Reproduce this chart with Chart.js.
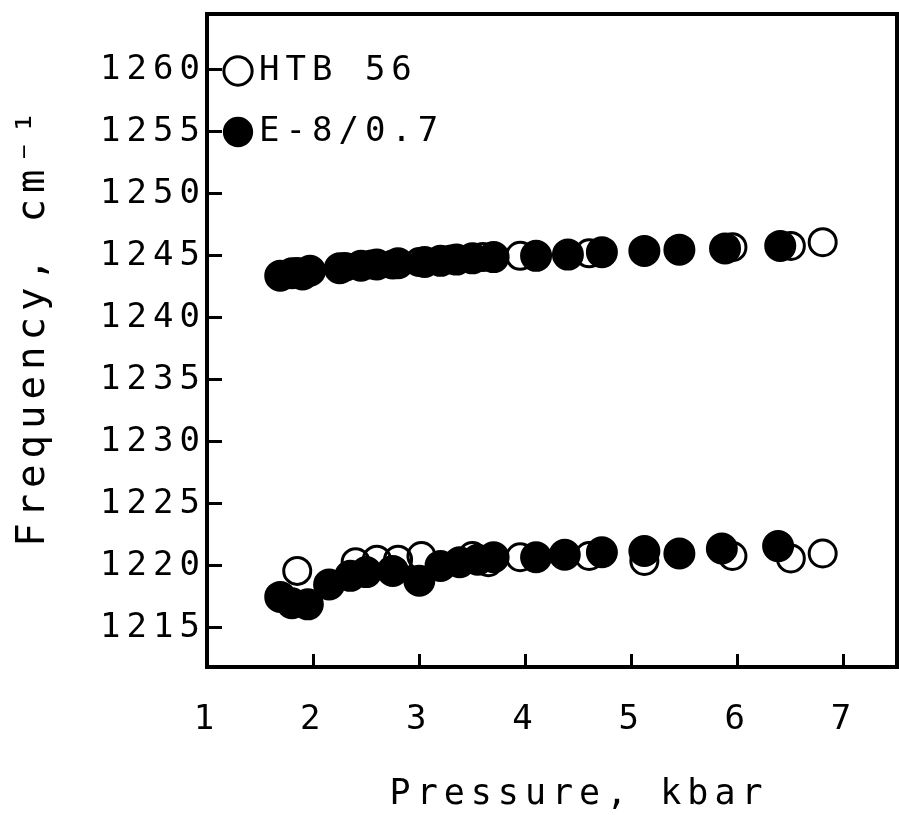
<!DOCTYPE html>
<html>
<head>
<meta charset="utf-8">
<script src="https://cdn.jsdelivr.net/npm/chart.js@4/dist/chart.umd.min.js"></script>
<style>
html,body{margin:0;padding:0;background:#fff;}
#wrap{width:899px;height:818px;}
</style>
</head>
<body>
<div id="wrap"><canvas id="c" width="899" height="818"></canvas></div>
<script>
// Series names
const seriesNames = ["HTB 56", "E-8/0.7"];

// HTB 56 (open circles): pressure (kbar) and frequency (cm^-1)
const htbPressure = [1.85, 2.3, 2.55, 2.75, 3.0, 3.3, 3.6, 3.95, 4.6, 5.95, 6.5, 6.8,
                     1.85, 2.4, 2.6, 2.8, 3.02, 3.5, 3.65, 3.95, 4.6, 5.12, 5.95, 6.5, 6.8];
const htbFreq = [1243.7, 1244.1, 1244.3, 1244.3, 1244.5, 1244.7, 1244.9, 1245.0, 1245.2, 1245.7, 1245.8, 1246.1,
                 1219.6, 1220.3, 1220.5, 1220.5, 1220.8, 1220.8, 1220.3, 1220.7, 1220.8, 1220.4, 1220.8, 1220.6, 1221.0];

// E-8/0.7 (filled circles)
const e8Pressure = [1.69, 1.8, 1.9, 1.97, 2.25, 2.45, 2.6, 2.8, 3.05, 3.2, 3.35, 3.5, 3.7, 4.1, 4.4, 4.72, 5.12, 5.45, 5.88, 6.4,
                    1.69, 1.8, 1.95, 2.15, 2.35, 2.5, 2.75, 3.0, 3.2, 3.38, 3.55, 3.7, 4.1, 4.37, 4.72, 5.12, 5.45, 5.85, 6.38];
const e8Freq = [1243.4, 1243.6, 1243.5, 1243.8, 1244.0, 1244.2, 1244.3, 1244.4, 1244.5, 1244.6, 1244.7, 1244.8, 1244.9, 1245.0, 1245.1, 1245.3, 1245.4, 1245.5, 1245.6, 1245.8,
                1217.5, 1217.0, 1216.9, 1218.5, 1219.2, 1219.5, 1219.6, 1218.8, 1220.0, 1220.3, 1220.5, 1220.7, 1220.7, 1220.9, 1221.1, 1221.2, 1221.0, 1221.4, 1221.6];

// Axis tick values
const xTicks = [1, 2, 3, 4, 5, 6, 7];
const yTicks = [1215, 1220, 1225, 1230, 1235, 1240, 1245, 1250, 1255, 1260];

const xTitle = "  Pressure, kbar";
const yTitle = " Frequency, cm\u207B\u00B9";

function pts(xs, ys) { return xs.map((x, i) => ({x: x, y: ys[i]})); }

const FONT = "'DejaVu Sans Mono', monospace";

const spacingPlugin = {
  id: 'spacing',
  beforeUpdate(chart) { chart.ctx.letterSpacing = '6px'; },
  beforeDraw(chart) { chart.ctx.letterSpacing = '6px'; }
};

const framePlugin = {
  id: 'frame',
  afterDraw(chart) {
    const a = chart.chartArea, ctx = chart.ctx;
    ctx.save();
    ctx.strokeStyle = '#000';
    ctx.lineWidth = 4;
    ctx.strokeRect(a.left, a.top, a.right - a.left, a.bottom - a.top);
    ctx.restore();
  }
};

function noPad(s) { s.paddingTop = 0; s.paddingBottom = 0; s.paddingLeft = 0; s.paddingRight = 0; }

new Chart(document.getElementById('c'), {
  type: 'scatter',
  data: {
    datasets: [
      {
        label: seriesNames[0],
        data: pts(htbPressure, htbFreq),
        pointStyle: 'circle',
        pointRadius: 13.5,
        pointHoverRadius: 13.5,
        borderWidth: 3,
        borderColor: '#000',
        backgroundColor: 'rgba(255,255,255,0)',
        order: 1
      },
      {
        label: seriesNames[1],
        data: pts(e8Pressure, e8Freq),
        pointStyle: 'circle',
        pointRadius: 15,
        pointHoverRadius: 15,
        borderWidth: 2,
        borderColor: '#000',
        backgroundColor: '#000',
        order: 0
      }
    ]
  },
  options: {
    responsive: false,
    animation: false,
    events: [],
    layout: { autoPadding: false, padding: { top: 14, right: 2, left: 0, bottom: 0 } },
    plugins: {
      tooltip: { enabled: false },
      legend: {
        position: 'chartArea',
        align: 'start',
        title: { display: true, text: '', padding: { top: 0, bottom: 15 }, font: { size: 10, lineHeight: 1.2 } },
        labels: {
          usePointStyle: true,
          boxWidth: 8,
          boxHeight: 20,
          padding: 27,
          color: '#000',
          font: { family: FONT, size: 34 },
          sort: (a, b) => a.datasetIndex - b.datasetIndex
        }
      }
    },
    scales: {
      x: {
        type: 'linear',
        min: 1,
        max: 7.5,
        afterFit(s) { s.height = 151; noPad(s); },
        afterBuildTicks(s) { s.ticks = xTicks.map(v => ({value: v})); },
        border: { display: true, color: '#000', width: 4 },
        grid: { display: true, drawOnChartArea: false, drawTicks: true, tickLength: -13, tickWidth: 3, tickColor: '#000' },
        ticks: { color: '#000', font: { family: FONT, size: 34 }, padding: 46, maxRotation: 0, autoSkip: false,
                 callback: (v) => String(v) },
        title: { display: true, text: xTitle, color: '#000', font: { family: FONT, size: 35 }, padding: { top: 0, bottom: 2 } }
      },
      y: {
        type: 'linear',
        min: 1211.85,
        max: 1264.5,
        afterFit(s) { s.width = 207; noPad(s); },
        afterBuildTicks(s) { s.ticks = yTicks.map(v => ({value: v})); },
        border: { display: true, color: '#000', width: 4 },
        grid: { display: true, drawOnChartArea: false, drawTicks: true, tickLength: -15, tickWidth: 3, tickColor: '#000' },
        ticks: { color: '#000', font: { family: FONT, size: 34 }, padding: 16, autoSkip: false,
                 callback: (v) => String(v) },
        title: { display: true, text: yTitle, color: '#000', font: { family: FONT, size: 39 }, padding: { top: 10, bottom: 0 } }
      }
    }
  },
  plugins: [spacingPlugin, framePlugin]
});
</script>
</body>
</html>
